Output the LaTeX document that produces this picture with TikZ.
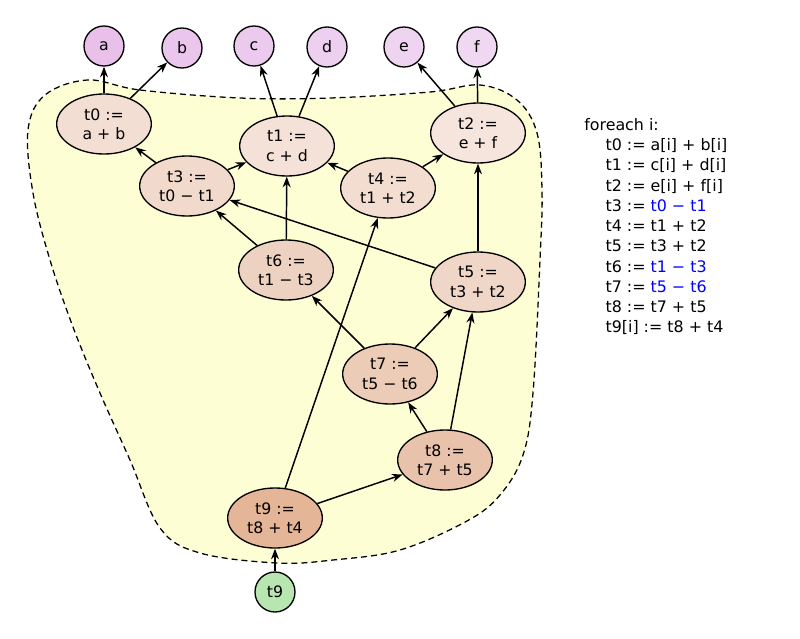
\documentclass[tikz,border=0pt]{standalone}
\usepackage{fontspec}
\setmainfont{DejaVu Sans}
\usepackage{tikz}
\usetikzlibrary{shapes.geometric,arrows.meta}

\definecolor{blobfill}{HTML}{FEFED4}
\definecolor{invar}{HTML}{B8E6B0}

\tikzset{
  inp/.style = {circle, draw, line width=1pt, minimum size=30pt, inner sep=0pt},
  op/.style = {ellipse, draw, line width=1pt, minimum width=71pt, minimum height=45pt,
               inner sep=0pt, align=center, font=\fontsize{11.8}{14.5}\selectfont},
  dep/.style = {-{Stealth[length=8pt,width=6pt,inset=2.6pt]}, line width=1.1pt}
}

\begin{document}
\begin{tikzpicture}[x=0.75pt, y=-0.75pt, font=\fontsize{11.8}{14.5}\selectfont]
\useasboundingbox (0,0) rectangle (800,639);

% the loop body
\draw [black, dashed, dash pattern=on 4.5pt off 3pt, line width=0.95pt, fill=blobfill]
  plot [smooth cycle, tension=0.6] coordinates {
    (88,80) (140,90) (240,98) (330,98) (430,92) (480,85) (517,100) (537,133)
    (542,190) (540,260) (533,393) (523,455) (500,495) (467,521) (400,550)
    (333,560) (277,563) (200,553) (160,528) (130,460) (100,393) (73,327)
    (50,260) (33,193) (28,130) (45,95)};

% inputs
\node [inp, fill={rgb,255:red,232;green,192;blue,234}] (a) at (104,46) {a};
\node [inp, fill={rgb,255:red,234;green,197;blue,236}] (b) at (182,48) {b};
\node [inp, fill={rgb,255:red,236;green,202;blue,238}] (c) at (254,46) {c};
\node [inp, fill={rgb,255:red,237;green,207;blue,239}] (d) at (327,47) {d};
\node [inp, fill={rgb,255:red,239;green,212;blue,241}] (e) at (404,47) {e};
\node [inp, fill={rgb,255:red,240;green,216;blue,242}] (f) at (477,47) {f};

% operations
\node [op, fill={rgb,255:red,242;green,222;blue,211}] (t0) at (104,124) {t0 :=\\a + b};
\node [op, fill={rgb,255:red,244;green,226;blue,216}] (t1) at (287,146) {t1 :=\\c + d};
\node [op, fill={rgb,255:red,245;green,229;blue,220}] (t2) at (478,133) {t2 :=\\e + f};
\node [op, fill={rgb,255:red,241;green,218;blue,204}] (t3) at (187,186) {t3 :=\\t0 − t1};
\node [op, fill={rgb,255:red,242;green,221;blue,208}] (t4) at (388,188) {t4 :=\\t1 + t2};
\node [op, fill={rgb,255:red,240;green,214;blue,199}] (t5) at (478,282) {t5 :=\\t3 + t2};
\node [op, fill={rgb,255:red,238;green,210;blue,193}] (t6) at (286,270) {t6 :=\\t1 − t3};
\node [op, fill={rgb,255:red,236;green,203;blue,183}] (t7) at (390,374) {t7 :=\\t5 − t6};
\node [op, fill={rgb,255:red,232;green,194;blue,170}] (t8) at (445,460) {t8 :=\\t7 + t5};
\node [op, fill={rgb,255:red,229;green,181;blue,151}] (t9) at (275,518) {t9 :=\\t8 + t4};

% output
\node [inp, fill=invar] (out) at (275,592) {t9};

% dependencies
\draw [dep] (t0) -- (a);
\draw [dep] (t0) -- (b);
\draw [dep] (t1) -- (c);
\draw [dep] (t1) -- (d);
\draw [dep] (t2) -- (e);
\draw [dep] (t2) -- (f);
\draw [dep] (t3) -- (t0);
\draw [dep] (t3) -- (t1);
\draw [dep] (t4) -- (t1);
\draw [dep] (t4) -- (t2);
\draw [dep] (t5) -- (t2);
\draw [dep] (t5) -- (t3);
\draw [dep] (t6) -- (t3);
\draw [dep] (t6) -- (t1);
\draw [dep] (t7) -- (t6);
\draw [dep] (t7) -- (t5);
\draw [dep] (t8) -- (t7);
\draw [dep] (t8) -- (t5);
\draw [dep] (t9) -- (t8);
\draw [dep] (t9) -- (t4);
\draw [dep] (out) -- (t9);

% the code
\node [anchor=north west, align=left, inner sep=0pt,
       font=\fontsize{11.9}{15.2}\selectfont] (code) at (584,118) {%
foreach i:\\
\hspace*{16pt}t0 := a[i] + b[i]\\
\hspace*{16pt}t1 := c[i] + d[i]\\
\hspace*{16pt}t2 := e[i] + f[i]\\
\hspace*{16pt}t3 := \textcolor{blue}{t0 − t1}\\
\hspace*{16pt}t4 := t1 + t2\\
\hspace*{16pt}t5 := t3 + t2\\
\hspace*{16pt}t6 := \textcolor{blue}{t1 − t3}\\
\hspace*{16pt}t7 := \textcolor{blue}{t5 − t6}\\
\hspace*{16pt}t8 := t7 + t5\\
\hspace*{16pt}t9[i] := t8 + t4};
\end{tikzpicture}
\end{document}
